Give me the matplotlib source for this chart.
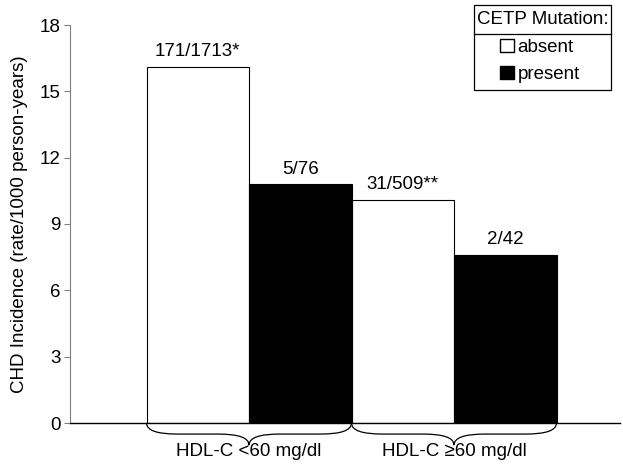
import numpy as np
import matplotlib.pyplot as plt
from matplotlib.patches import Patch, Rectangle
from matplotlib.path import Path
from matplotlib.patches import PathPatch

plt.rcParams['font.family'] = ['Liberation Sans', 'DejaVu Sans']

# data
groups = ['HDL-C <60 mg/dl', 'HDL-C \u226560 mg/dl']
absent = [16.1, 10.1]
present = [10.8, 7.6]
absent_lbl = ['171/1713*', '31/509**']
present_lbl = ['5/76', '2/42']

fs = 13.5
fig = plt.figure(figsize=(6.23, 4.66), dpi=100)
W, H = 623, 466
ax = fig.add_axes([70 / W, (466 - 423) / H, (620 - 70) / W, (423 - 25) / H])

x = np.array([0, 2])
w = 1.0
ax.bar(x - w / 2, absent, w, color='white', edgecolor='black', linewidth=0.8)
ax.bar(x + w / 2, present, w, color='black', edgecolor='black', linewidth=0.8)

for xi, v, t in zip(x - w / 2, absent, absent_lbl):
    ax.text(xi, v + 0.3, t, ha='center', va='bottom', fontsize=fs)
for xi, v, t in zip(x + w / 2, present, present_lbl):
    ax.text(xi, v + 0.3, t, ha='center', va='bottom', fontsize=fs)

ax.set_xlim((70 - 249) / 102.5, (620 - 249) / 102.5)
ax.set_ylim(0, 18)
ax.set_yticks(np.arange(0, 19, 3))
ax.set_xticks([])
ax.tick_params(axis='y', direction='out', length=4, labelsize=fs, color='gray', pad=3)
ax.spines['top'].set_visible(False)
ax.spines['right'].set_visible(False)
ax.spines['left'].set_color('gray')
ax.spines['bottom'].set_linewidth(1.0)
ax.set_ylabel('CHD Incidence (rate/1000 person-years)', fontsize=fs, labelpad=8)

# braces under groups
for xc, g in zip(x, groups):
    l, r = xc - 1, xc + 1
    d = 0.3
    yh = -0.5
    verts = [(l, 0), (l, yh), (l + d, yh),
             (xc - d, yh), (xc, yh), (xc, -1.0),
             (xc, yh), (xc + d, yh),
             (r - d, yh), (r, yh), (r, 0)]
    codes = [Path.MOVETO, Path.CURVE3, Path.CURVE3,
             Path.LINETO, Path.CURVE3, Path.CURVE3,
             Path.CURVE3, Path.CURVE3,
             Path.LINETO, Path.CURVE3, Path.CURVE3]
    ax.add_patch(PathPatch(Path(verts, codes), fill=False, lw=0.9,
                           edgecolor='black', clip_on=False))
    ax.text(xc, -1.3, g, ha='center', va='center', fontsize=fs)

# legend box
fig.add_artist(Rectangle((474 / W, 1 - 90 / H), (611 - 474) / W, (90 - 5) / H,
                         transform=fig.transFigure, fill=False, lw=0.9, edgecolor='black'))
fig.add_artist(plt.Line2D([474 / W, 611 / W], [1 - 34 / H, 1 - 34 / H],
                          transform=fig.transFigure, lw=0.9, color='black'))
fig.text(543 / W, 1 - 19 / H, 'CETP Mutation:', ha='center', va='center', fontsize=fs)
handles = [Patch(facecolor='white', edgecolor='black', label='absent'),
           Patch(facecolor='black', edgecolor='black', label='present')]
fig.legend(handles=handles, loc='center', bbox_to_anchor=(540 / W, 1 - 61 / H),
           frameon=False, fontsize=fs, handlelength=0.7, handleheight=0.7,
           handletextpad=0.2, labelspacing=0.55, borderpad=0)

fig.savefig('out.png', dpi=100)
